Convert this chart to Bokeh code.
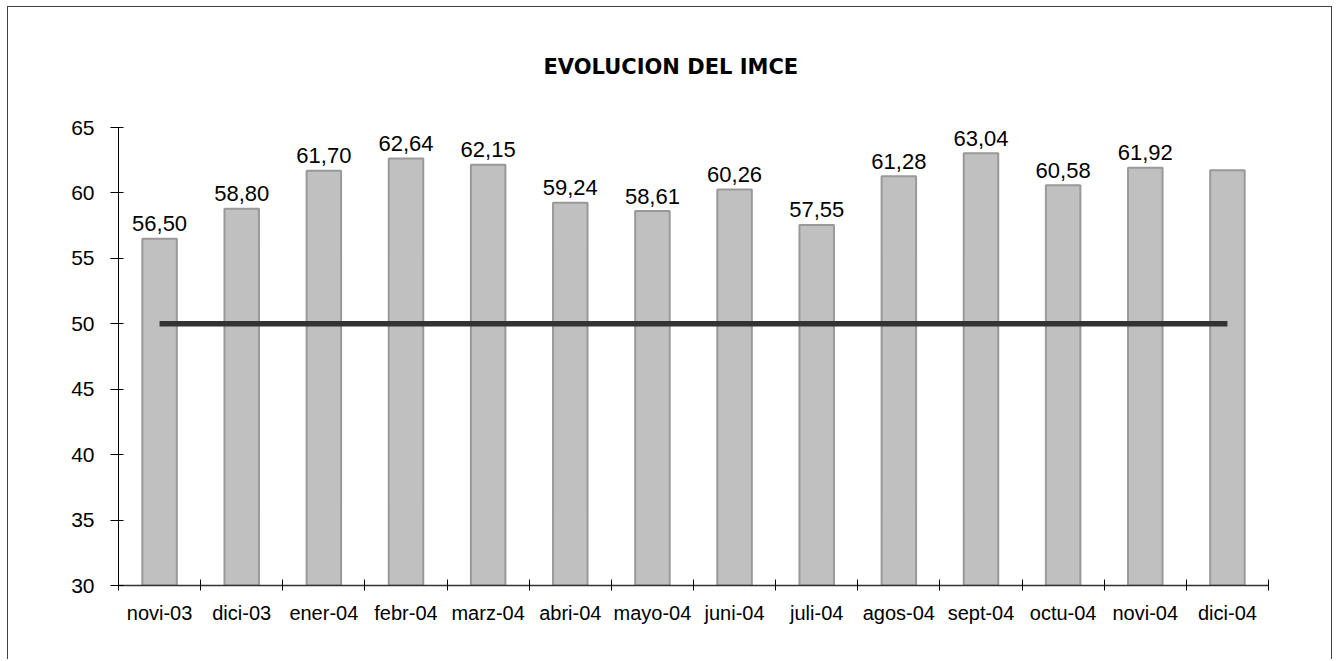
from bokeh.plotting import figure
from bokeh.models import Range1d, FixedTicker, Title
from bokeh.embed import file_html
from bokeh.resources import INLINE
from bokeh.core.properties import value

categories = ["novi-03", "dici-03", "ener-04", "febr-04", "marz-04", "abri-04", "mayo-04",
              "juni-04", "juli-04", "agos-04", "sept-04", "octu-04", "novi-04", "dici-04"]
imce = [56.50, 58.80, 61.70, 62.64, 62.15, 59.24, 58.61, 60.26, 57.55, 61.28, 63.04, 60.58, 61.92, 61.74]
labels = ["56,50", "58,80", "61,70", "62,64", "62,15", "59,24", "58,61", "60,26", "57,55",
          "61,28", "63,04", "60,58", "61,92", ""]
neutral = [50] * 14
y_ticks = [30, 35, 40, 45, 50, 55, 60, 65]
title_text = "EVOLUCION DEL IMCE"

xs = [i + 0.5 for i in range(len(categories))]

FONT = "Liberation Sans"

p = figure(width=1325, height=653, output_backend="svg", toolbar_location=None,
           x_range=Range1d(0, len(categories)), y_range=Range1d(30, 65),
           min_border_left=110, min_border_right=65, min_border_top=120, min_border_bottom=75)
p.styles = {"border-top": "1px solid #404040", "border-left": "1px solid #404040",
            "border-right": "1px solid #404040", "margin-left": "7px", "margin-top": "6px"}
p.outline_line_color = None
p.xgrid.visible = False
p.ygrid.visible = False
p.background_fill_color = "white"
p.border_fill_color = "white"

t = Title(text=title_text, align="left", vertical_align="top", text_font="DejaVu Sans",
          text_font_size="21px", text_font_style="bold", text_color="black", offset=425)
if "standoff" in Title.properties():
    t.standoff = 93
p.add_layout(t, "above")

p.vbar(x=xs, top=imce, bottom=30, width=0.42, fill_color="#c0c0c0",
       line_color="#999999", line_width=2)
p.line(x=xs, y=neutral, line_color="#333333", line_width=5.5)
p.text(x=xs, y=imce, text=labels, text_align="center", text_baseline="alphabetic",
       y_offset=-15, text_font=value(FONT), text_font_size="22px", text_color="black")

# x axis
xa = p.xaxis[0]
xa.ticker = FixedTicker(ticks=xs, minor_ticks=list(range(len(categories) + 1)))
xa.major_label_overrides = {x: c for x, c in zip(xs, categories)}
xa.major_tick_line_color = None
xa.major_tick_in = 0
xa.major_tick_out = 0
xa.minor_tick_in = 6
xa.minor_tick_out = 5
xa.minor_tick_line_color = "black"
xa.axis_line_color = "#333333"
xa.axis_line_width = 1.5
xa.major_label_text_font = FONT
xa.major_label_text_font_size = "20px"
xa.major_label_text_color = "black"
xa.major_label_standoff = 11

ya = p.yaxis[0]
ya.ticker = FixedTicker(ticks=y_ticks)
ya.minor_tick_line_color = None
ya.major_tick_in = 5
ya.major_tick_out = 8
ya.axis_line_color = "black"
ya.major_label_text_font = FONT
ya.major_label_text_font_size = "21px"
ya.major_label_text_color = "black"
ya.major_label_standoff = 16

open("out.html", "w").write(file_html(p, INLINE))
